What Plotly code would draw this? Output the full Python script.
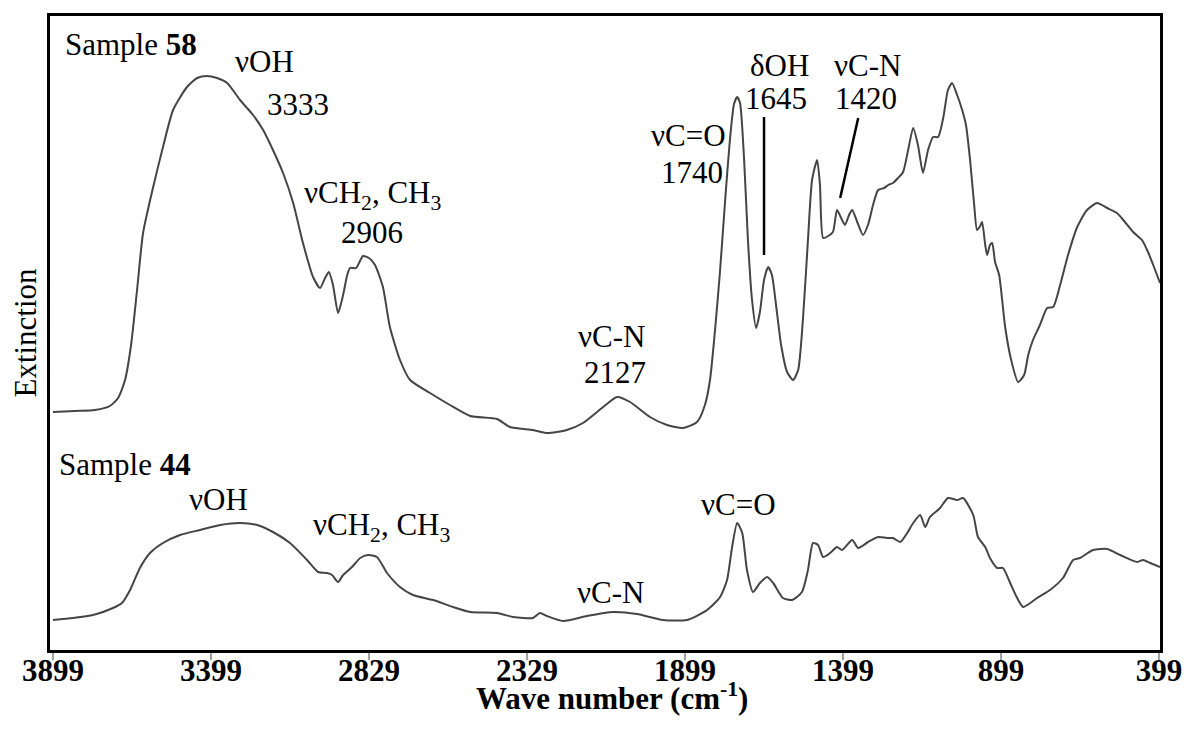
import plotly.graph_objects as go

# ---- data (wavenumber in cm^-1, extinction in arbitrary units) ----
wn_58 = [3899, 3829, 3766, 3719, 3693, 3671, 3652, 3633, 3614, 3582,
         3551, 3519, 3475, 3443, 3412, 3380, 3348, 3307, 3266, 3234,
         3203, 3171, 3139, 3108, 3076, 3054, 3038, 3026, 3013, 2997,
         2981, 2968, 2959, 2940, 2918, 2899, 2880, 2855, 2833, 2801,
         2769, 2706, 2643, 2579, 2494, 2453, 2380, 2336, 2273, 2222,
         2158, 2114, 2073, 2010, 1956, 1905, 1861, 1836, 1820, 1804,
         1788, 1772, 1757, 1744, 1734, 1725, 1712, 1700, 1687, 1674,
         1662, 1649, 1636, 1624, 1611, 1595, 1576, 1557, 1541, 1526,
         1510, 1497, 1481, 1472, 1462, 1446, 1431, 1418, 1405, 1393,
         1380, 1370, 1354, 1336, 1320, 1304, 1288, 1269, 1256, 1241,
         1225, 1209, 1193, 1177, 1162, 1146, 1130, 1114, 1098, 1082,
         1067, 1054, 1038, 1022, 1010, 997, 984, 975, 965, 959,
         949, 943, 934, 927, 918, 905, 886, 867, 845, 826,
         813, 798, 776, 753, 734, 712, 687, 658, 627, 595,
         563, 532, 507, 481, 453, 434, 415, 396]
ext_58 = [2.38, 2.39, 2.40, 2.44, 2.52, 2.70, 3.05, 3.60, 4.17, 4.63,
          5.03, 5.40, 5.63, 5.72, 5.74, 5.72, 5.67, 5.50, 5.35, 5.20,
          5.00, 4.77, 4.47, 4.07, 3.73, 3.62, 3.72, 3.78, 3.65, 3.37,
          3.55, 3.75, 3.82, 3.82, 3.94, 3.92, 3.85, 3.63, 3.23, 2.90,
          2.70, 2.57, 2.45, 2.34, 2.31, 2.23, 2.20, 2.17, 2.20, 2.27,
          2.43, 2.53, 2.48, 2.33, 2.25, 2.22, 2.28, 2.45, 2.70, 3.20,
          3.80, 4.50, 5.10, 5.46, 5.53, 5.47, 4.90, 4.10, 3.50, 3.22,
          3.38, 3.70, 3.83, 3.75, 3.45, 3.05, 2.78, 2.70, 2.80, 3.30,
          4.10, 4.70, 4.90, 4.65, 4.12, 4.14, 4.18, 4.40, 4.32, 4.25,
          4.35, 4.40, 4.28, 4.15, 4.25, 4.45, 4.60, 4.62, 4.65, 4.67,
          4.72, 4.78, 5.00, 5.22, 5.05, 4.77, 5.00, 5.13, 5.13, 5.32,
          5.60, 5.67, 5.55, 5.40, 5.25, 4.90, 4.45, 4.20, 4.24, 4.28,
          4.05, 3.95, 4.05, 4.07, 3.88, 3.75, 3.23, 2.90, 2.68, 2.75,
          2.95, 3.10, 3.25, 3.42, 3.43, 3.65, 3.95, 4.23, 4.40, 4.47,
          4.42, 4.37, 4.28, 4.18, 4.10, 3.98, 3.83, 3.67]

wn_44 = [3899, 3836, 3772, 3709, 3681, 3655, 3624, 3592, 3551, 3497,
         3434, 3370, 3307, 3253, 3203, 3149, 3095, 3060, 3032, 3016,
         2997, 2981, 2953, 2927, 2902, 2874, 2842, 2801, 2760, 2696,
         2633, 2579, 2494, 2443, 2412, 2380, 2358, 2336, 2285, 2209,
         2127, 2051, 1969, 1893, 1829, 1788, 1766, 1750, 1734, 1718,
         1703, 1684, 1662, 1639, 1620, 1589, 1560, 1529, 1510, 1494,
         1478, 1462, 1440, 1418, 1402, 1370, 1351, 1320, 1288, 1260,
         1241, 1218, 1196, 1177, 1155, 1139, 1124, 1092, 1067, 1038,
         1019, 987, 972, 949, 934, 911, 893, 870, 848, 829,
         785, 744, 703, 671, 649, 608, 563, 522, 468, 450,
         427, 396]
ext_44 = [0.30, 0.32, 0.35, 0.42, 0.47, 0.60, 0.82, 0.97, 1.07, 1.15,
          1.20, 1.25, 1.27, 1.25, 1.18, 1.07, 0.90, 0.78, 0.77, 0.75,
          0.68, 0.75, 0.83, 0.92, 0.95, 0.93, 0.77, 0.63, 0.55, 0.50,
          0.43, 0.38, 0.37, 0.33, 0.32, 0.32, 0.37, 0.34, 0.29, 0.34,
          0.38, 0.36, 0.30, 0.30, 0.40, 0.53, 0.70, 1.03, 1.27, 1.17,
          0.80, 0.58, 0.67, 0.73, 0.67, 0.52, 0.50, 0.58, 0.80, 1.07,
          1.05, 0.93, 0.97, 1.03, 1.00, 1.10, 1.02, 1.08, 1.13, 1.12,
          1.12, 1.08, 1.17, 1.27, 1.35, 1.23, 1.33, 1.42, 1.52, 1.50,
          1.52, 1.35, 1.13, 1.03, 0.92, 0.82, 0.82, 0.67, 0.52, 0.43,
          0.52, 0.60, 0.72, 0.90, 0.92, 1.00, 1.01, 0.95, 0.88, 0.90,
          0.87, 0.83]

tick_vals = [3899, 3399, 2899, 2399, 1899, 1399, 899, 399]
tick_text = ["3899", "3399", "2829", "2329", "1899", "1399", "899", "399"]

# annotations: (text, x, y, xanchor)
labels = [
    ("Sample <b>58</b>", 3867, 6.06, "left"),
    ("νOH", 3231, 5.89, "center"),
    ("3333", 3124, 5.46, "center"),
    ("νCH<sub>2</sub>, CH<sub>3</sub>", 2889, 4.55, "center"),
    ("2906", 2889, 4.18, "center"),
    ("νC-N", 2133, 3.14, "center"),
    ("2127", 2120, 2.78, "center"),
    ("νC=O", 1889, 5.15, "center"),
    ("1740", 1877, 4.78, "center"),
    ("δOH", 1601, 5.85, "center"),
    ("1645", 1611, 5.52, "center"),
    ("νC-N", 1323, 5.85, "center"),
    ("1420", 1326, 5.52, "center"),
    ("Sample <b>44</b>", 3886, 1.86, "left"),
    ("νOH", 3374, 1.51, "center"),
    ("νCH<sub>2</sub>, CH<sub>3</sub>", 2861, 1.23, "center"),
    ("νC-N", 2136, 0.58, "center"),
    ("νC=O", 1731, 1.46, "center"),
]
# leader lines: (x0, y0, x1, y1)
leaders = [(1649, 5.33, 1649, 3.95), (1351, 5.32, 1408, 4.52)]

SERIF = "Liberation Serif, Times New Roman, serif"
FS = 31

fig = go.Figure()
for wn, ext, name in [(wn_58, ext_58, "Sample 58"), (wn_44, ext_44, "Sample 44")]:
    fig.add_trace(go.Scatter(x=wn, y=ext, mode="lines", name=name,
                             line=dict(color="#454545", width=2, shape="spline", smoothing=0.6),
                             showlegend=False, hoverinfo="skip"))

for text, x, y, xa in labels:
    fig.add_annotation(x=x, y=y, xref="x", yref="y", text=text, showarrow=False,
                       xanchor=xa, yanchor="middle",
                       font=dict(family=SERIF, size=FS, color="black"))

# x-axis title placed as paper-anchored text just below the tick labels
fig.add_annotation(x=0.506, y=-0.074, xref="paper", yref="paper",
                   text="<b>Wave number (cm<sup>-1</sup>)</b>", showarrow=False,
                   xanchor="center", yanchor="middle",
                   font=dict(family=SERIF, size=FS, color="black"))

for x0, y0, x1, y1 in leaders:
    fig.add_shape(type="line", x0=x0, y0=y0, x1=x1, y1=y1, xref="x", yref="y",
                  line=dict(color="black", width=2.5))

fig.update_layout(
    width=1185, height=729,
    margin=dict(l=50, r=25, t=16, b=79, autoexpand=False),
    paper_bgcolor="white", plot_bgcolor="white",
    font=dict(family=SERIF, color="black"),
)
fig.update_xaxes(
    range=[3908.5, 396], tickmode="array", tickvals=tick_vals, ticktext=tick_text,
    ticks="outside", ticklen=7, tickwidth=1.5, tickcolor="#a0a0a0",
    ticklabelstandoff=-16,
    tickfont=dict(family=SERIF, size=FS, color="black", weight="bold"),
    showline=True, linecolor="black", linewidth=2.5, mirror=True,
    showgrid=False, zeroline=False, automargin=False,
)
fig.update_yaxes(
    range=[0, 6.34], showticklabels=False, ticks="",
    showline=True, linecolor="black", linewidth=2.5, mirror=True,
    showgrid=False, zeroline=False, automargin=False,
    title=dict(text="Extinction", font=dict(family=SERIF, size=FS, color="black"), standoff=2),
)

fig.write_html("out.html")
